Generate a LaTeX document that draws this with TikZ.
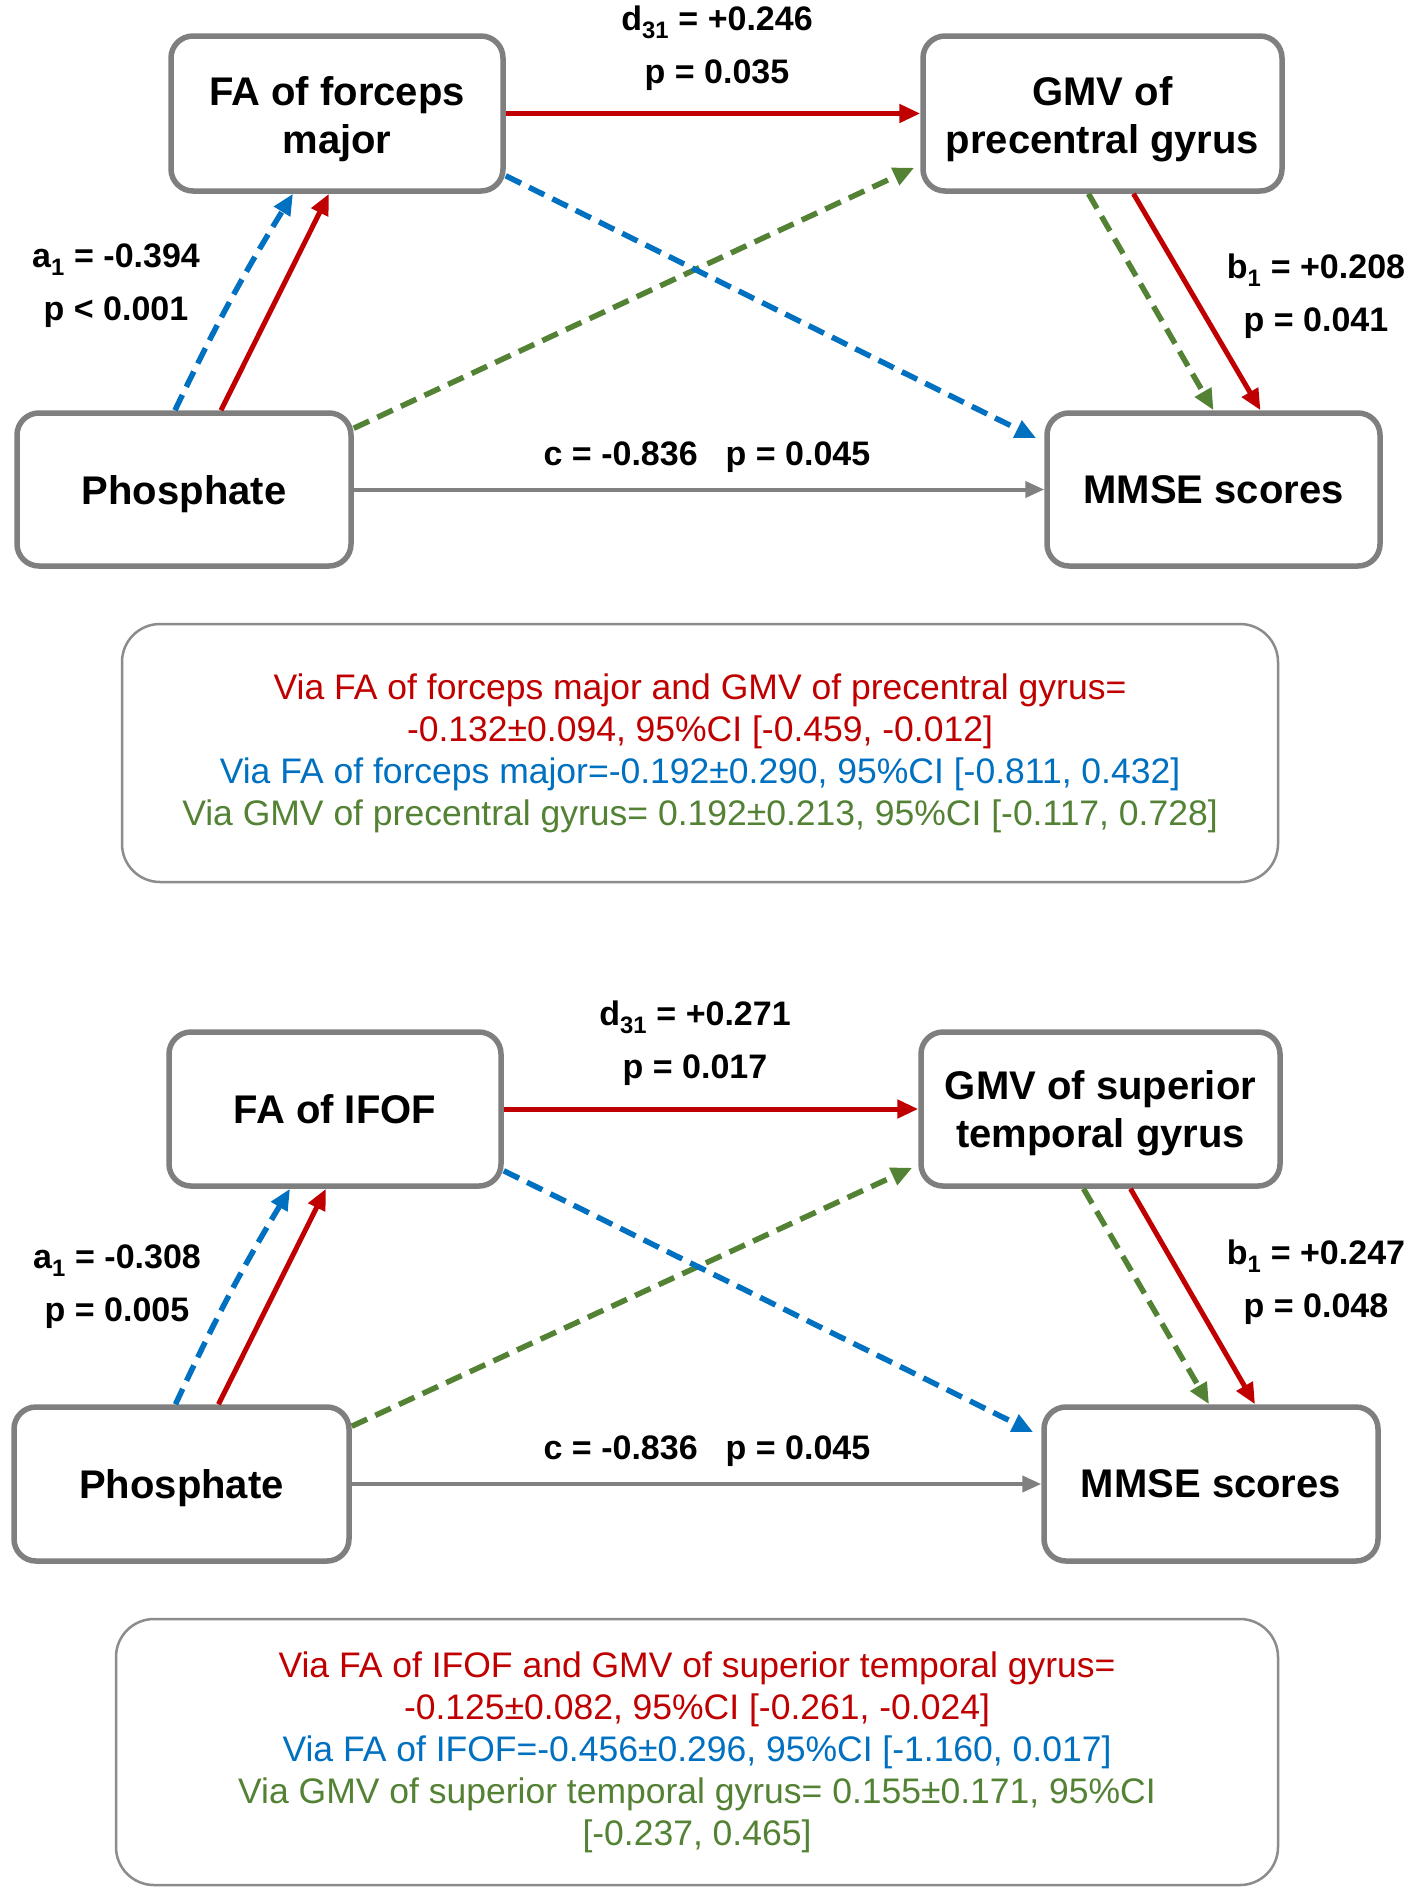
\documentclass[tikz,border=0pt]{standalone}
\usepackage{fontspec}
\setmainfont{Liberation Sans}
\usetikzlibrary{arrows.meta}
\definecolor{cred}{RGB}{192,0,0}
\definecolor{cblue}{RGB}{0,112,192}
\definecolor{cgreen}{RGB}{84,130,53}
\definecolor{cgray}{RGB}{128,128,128}
\definecolor{cbox}{RGB}{127,127,127}
\definecolor{csum}{RGB}{140,140,140}
\newcommand{\lowertxt}[2]{\raisebox{-#1}[\height][\depth]{\begin{tabular}{@{}c@{}}#2\end{tabular}}}
\begin{document}
\begin{tikzpicture}[x=1pt,y=-1pt,
  vbox/.style={draw=cbox, line width=5.5pt, rounded corners=22pt, fill=white, align=center,
    font=\fontsize{40}{48}\selectfont\bfseries, inner sep=0pt},
  sumbox/.style={draw=csum, line width=2.5pt, rounded corners=38pt, fill=white, align=center,
    font=\fontsize{35.5}{42}\selectfont, inner sep=0pt},
  lab/.style={align=center, font=\fontsize{34}{53}\selectfont\bfseries, inner sep=0pt},
  tip/.style={-{Triangle[length=21pt,width=18pt]}},
  redarr/.style={tip, draw=cred, line width=5pt},
  bluearr/.style={tip, draw=cblue, line width=5.5pt, dash pattern=on 17pt off 9pt},
  greenarr/.style={tip, draw=cgreen, line width=5.5pt, dash pattern=on 17pt off 9pt},
  grayarr/.style={-{Triangle[length=19pt,width=16pt]}, draw=cgray, line width=4pt},
]
\useasboundingbox (0,0) rectangle (1417,1896);
\fill[white] (0,0) rectangle (1417,1896);

% ---------- top panel ----------
\node[vbox, minimum width=332pt, minimum height=155pt] (fa1) at (337,113.5) {\lowertxt{6pt}{FA of forceps\\major}};
\node[vbox, minimum width=359pt, minimum height=155pt] (gmv1) at (1102.5,113.5) {\lowertxt{6pt}{GMV of\\precentral gyrus}};
\node[vbox, minimum width=334pt, minimum height=153pt] (ph1) at (184,489.5) {\lowertxt{5pt}{Phosphate}};
\node[vbox, minimum width=333pt, minimum height=153pt] (mm1) at (1213.5,489.5) {MMSE scores};

\draw[redarr] (fa1.east) -- (gmv1.west);
\draw[bluearr] ([xshift=-9pt]ph1.north) to[bend left=3] ([xshift=-44pt]fa1.south);
\draw[redarr] ([xshift=37pt]ph1.north) -- ([xshift=-8pt]fa1.south);
\draw[greenarr] ([yshift=-18pt]ph1.north east) -- ([xshift=-6pt,yshift=26pt]gmv1.south west);
\draw[bluearr] ([yshift=18pt]fa1.south east) -- ([xshift=-8pt,yshift=-28pt]mm1.north west);
\draw[grayarr] (ph1.east) -- (mm1.west);
\draw[greenarr] ([xshift=-14pt]gmv1.south) -- (mm1.north);
\draw[redarr] ([xshift=31pt]gmv1.south) -- ([xshift=47pt]mm1.north);

\node[lab] (d1) at (717,48.5) {d\textsubscript{31} = +0.246\\p = 0.035};
\node[lab] (a1) at (116,286) {a\textsubscript{1} = -0.394\\p < 0.001};
\node[lab] (b1) at (1316,296) {b\textsubscript{1} = +0.208\\p = 0.041};
\node[lab] (c1) at (707,457) {c = -0.836\hspace{28pt}p = 0.045};

\node[sumbox, minimum width=1156pt, minimum height=258pt] (sum1) at (700,753)
 {\color{cred}Via FA of forceps major and GMV of precentral gyrus=\\
  \color{cred}-0.132±0.094, 95\%CI [-0.459, -0.012]\\
  \color{cblue}Via FA of forceps major=-0.192±0.290, 95\%CI [-0.811, 0.432]\\
  \color{cgreen}Via GMV of precentral gyrus= 0.192±0.213, 95\%CI [-0.117, 0.728]};

% ---------- bottom panel ----------
\node[vbox, minimum width=332pt, minimum height=154pt] (fa2) at (335,1109) {FA of IFOF};
\node[vbox, minimum width=359pt, minimum height=154pt] (gmv2) at (1100.5,1109) {\lowertxt{5pt}{GMV of superior\\temporal gyrus}};
\node[vbox, minimum width=335pt, minimum height=154pt] (ph2) at (181.5,1484) {\lowertxt{5pt}{Phosphate}};
\node[vbox, minimum width=334pt, minimum height=154pt] (mm2) at (1211,1484) {MMSE scores};

\draw[redarr] (fa2.east) -- (gmv2.west);
\draw[bluearr] ([xshift=-6pt]ph2.north) to[bend left=3] ([xshift=-45pt]fa2.south);
\draw[redarr] ([xshift=37pt]ph2.north) -- ([xshift=-9pt]fa2.south);
\draw[greenarr] ([yshift=-22pt]ph2.north east) -- ([xshift=-6pt,yshift=21pt]gmv2.south west);
\draw[bluearr] ([yshift=18pt]fa2.south east) -- ([xshift=-8pt,yshift=-28pt]mm2.north west);
\draw[grayarr] (ph2.east) -- (mm2.west);
\draw[greenarr] ([xshift=-17pt]gmv2.south) -- ([xshift=-2pt]mm2.north);
\draw[redarr] ([xshift=30pt]gmv2.south) -- ([xshift=44pt]mm2.north);

\node[lab] (d2) at (695,1043) {d\textsubscript{31} = +0.271\\p = 0.017};
\node[lab] (a2) at (117,1287) {a\textsubscript{1} = -0.308\\p = 0.005};
\node[lab] (b2) at (1316,1282.5) {b\textsubscript{1} = +0.247\\p = 0.048};
\node[lab] (c2) at (707,1451) {c = -0.836\hspace{28pt}p = 0.045};

\node[sumbox, minimum width=1162pt, minimum height=266pt] (sum2) at (697,1752)
 {\color{cred}Via FA of IFOF and GMV of superior temporal gyrus=\\
  \color{cred}-0.125±0.082, 95\%CI [-0.261, -0.024]\\
  \color{cblue}Via FA of IFOF=-0.456±0.296, 95\%CI [-1.160, 0.017]\\
  \color{cgreen}Via GMV of superior temporal gyrus= 0.155±0.171, 95\%CI\\
  \color{cgreen}[-0.237, 0.465]};
\end{tikzpicture}
\end{document}
